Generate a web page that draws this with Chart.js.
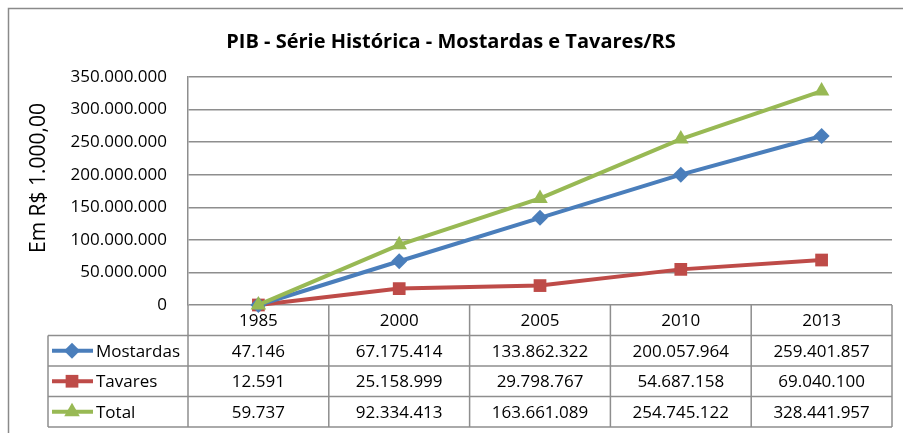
<!DOCTYPE html>
<html>
<head>
<meta charset="utf-8">
<title>PIB - Série Histórica - Mostardas e Tavares/RS</title>
<script src="https://cdn.jsdelivr.net/npm/chart.js@4"></script>
<style>
  html, body { margin: 0; padding: 0; background: #fff; }
  #wrap { position: relative; width: 903px; height: 433px; }
</style>
</head>
<body>
<div id="wrap"><canvas id="pibChart"></canvas></div>
<script>
// data (valores em R$ 1.000,00)
const years = ["1985", "2000", "2005", "2010", "2013"];
const seriesNames = ["Mostardas", "Tavares", "Total"];
const mostardas = [47146, 67175414, 133862322, 200057964, 259401857];
const tavares = [12591, 25158999, 29798767, 54687158, 69040100];
const total = [59737, 92334413, 163661089, 254745122, 328441957];
const yMax = 350000000;
const yStep = 50000000;
const yTitle = "Em R$ 1.000,00";

const FONT = "'Open Sans', sans-serif";
const GRID = "#8e8e8e";
const colors = ["#4A7EBB", "#BE4B48", "#98B954"];
const markers = ["rectRot", "rect", "triangle"];
const markerSize = [8, 9, 9];

// 1234567 -> "1.234.567"
function fmt(v) {
  return String(Math.round(v)).replace(/\B(?=(\d{3})+(?!\d))/g, ".");
}

// outer frame of the chart object + y axis title (sits a bit above centre, like Excel)
const framePlugin = {
  id: "frame",
  beforeDraw(chart) {
    const ctx = chart.ctx;
    ctx.save();
    ctx.fillStyle = "#fff";
    ctx.fillRect(0, 0, chart.width, chart.height);
    ctx.strokeStyle = "#8a8a8a";
    ctx.lineWidth = 1.5;
    ctx.strokeRect(8.5, 8.5, chart.width + 10, chart.height + 10);
    ctx.restore();
  },
  afterDraw(chart) {
    const ctx = chart.ctx;
    const area = chart.chartArea;
    ctx.save();
    ctx.translate(39, (area.top + area.bottom) / 2 - 13);
    ctx.rotate(-Math.PI / 2);
    ctx.fillStyle = "#000";
    ctx.font = "21px " + FONT;
    ctx.textAlign = "center";
    ctx.textBaseline = "middle";
    ctx.fillText(yTitle, 0, 0);
    ctx.restore();
  }
};

// data table under the plot, positioned from the x scale
const tablePlugin = {
  id: "dataTable",
  beforeDatasetsDraw(chart) {
    const ctx = chart.ctx;
    const xs = chart.scales.x;
    const area = chart.chartArea;
    const rowH = 30.5;
    const top = area.bottom;
    const legendLeft = 48;
    const half = (xs.getPixelForValue(1) - xs.getPixelForValue(0)) / 2;
    const rows = [mostardas, tavares, total];
    const bottom = top + rowH * (rows.length + 1);

    ctx.save();
    ctx.strokeStyle = GRID;
    ctx.lineWidth = 1.5;
    ctx.beginPath();
    // horizontal lines
    for (let r = 1; r <= rows.length + 1; r++) {
      const y = top + rowH * r;
      ctx.moveTo(legendLeft, y);
      ctx.lineTo(area.right, y);
    }
    // verticals
    ctx.moveTo(legendLeft, top + rowH);
    ctx.lineTo(legendLeft, bottom);
    ctx.moveTo(area.left, top);
    ctx.lineTo(area.left, bottom);
    for (let i = 0; i < years.length; i++) {
      const x = xs.getPixelForValue(i) + half;
      ctx.moveTo(x, top);
      ctx.lineTo(x, bottom);
    }
    ctx.stroke();

    ctx.fillStyle = "#000";
    ctx.font = "17px " + FONT;
    ctx.textAlign = "center";
    ctx.textBaseline = "middle";
    years.forEach((yr, i) => {
      ctx.fillText(yr, xs.getPixelForValue(i), top + rowH / 2 + 1);
    });
    rows.forEach((vals, r) => {
      const cy = top + rowH * (r + 1.5) + 1;
      vals.forEach((v, i) => {
        ctx.fillText(fmt(v), xs.getPixelForValue(i), cy);
      });
    });

    // legend keys
    rows.forEach((vals, r) => {
      const cy = top + rowH * (r + 1.5);
      ctx.strokeStyle = colors[r];
      ctx.lineWidth = 4;
      ctx.beginPath();
      ctx.moveTo(52, cy);
      ctx.lineTo(93, cy);
      ctx.stroke();
      ctx.fillStyle = colors[r];
      Chart.helpers.drawPoint(ctx, {
        pointStyle: markers[r], radius: markerSize[r], rotation: 0, borderWidth: 0
      }, 72, cy);
      ctx.fillStyle = "#000";
      ctx.textAlign = "left";
      ctx.fillText(seriesNames[r], 96, cy + 1);
    });
    ctx.restore();
  }
};

function makeSet(i, data, order) {
  return {
    label: seriesNames[i],
    data: data,
    borderColor: colors[i],
    backgroundColor: colors[i],
    borderWidth: 4,
    pointStyle: markers[i],
    pointRadius: markerSize[i],
    pointBackgroundColor: colors[i],
    pointBorderColor: colors[i],
    pointBorderWidth: 0,
    tension: 0,
    clip: false,
    order: order
  };
}

new Chart(document.getElementById("pibChart"), {
  type: "line",
  data: {
    labels: years,
    datasets: [
      makeSet(0, mostardas, 1),
      makeSet(1, tavares, 2),
      makeSet(2, total, 0)
    ]
  },
  options: {
    responsive: true,
    maintainAspectRatio: false,
    animation: false,
    layout: { padding: { top: 8, left: 10, right: 11, bottom: 128 } },
    plugins: {
      legend: { display: false },
      tooltip: { enabled: false },
      title: {
        display: true,
        text: "PIB - Série Histórica - Mostardas e Tavares/RS",
        color: "#000",
        font: { family: FONT, size: 20, weight: "bold" },
        padding: { top: 22, bottom: 23 }
      }
    },
    scales: {
      x: { type: "category", offset: true, display: false },
      y: {
        min: 0,
        max: yMax,
        ticks: {
          stepSize: yStep,
          padding: 21,
          color: "#000",
          font: { family: FONT, size: 17 },
          callback: (v) => fmt(v)
        },
        grid: { color: GRID, lineWidth: 1.5, drawTicks: false },
        border: { color: GRID, width: 1.5 },
        title: { display: false },
        afterFit(scale) { scale.width = 178; }
      }
    }
  },
  plugins: [framePlugin, tablePlugin]
});
</script>
</body>
</html>
